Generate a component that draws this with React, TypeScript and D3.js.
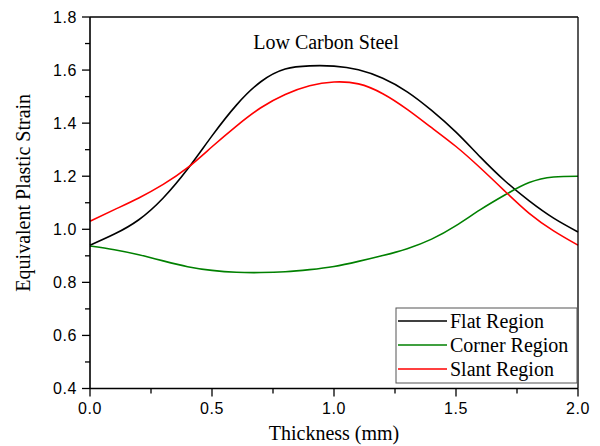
import React from "react";
import * as d3 from "d3";

const thickness = [0, 0.1, 0.2, 0.3, 0.4, 0.5, 0.6, 0.7, 0.8, 0.9, 1.0, 1.1, 1.2, 1.3, 1.4, 1.5, 1.6, 1.7, 1.8, 1.9, 2.0];
const flatRegion = [0.94, 0.982, 1.036, 1.118, 1.227, 1.352, 1.468, 1.556, 1.604, 1.616, 1.615, 1.601, 1.569, 1.518, 1.448, 1.366, 1.272, 1.183, 1.107, 1.042, 0.99];
const cornerRegion = [0.937, 0.923, 0.904, 0.881, 0.859, 0.845, 0.838, 0.837, 0.84, 0.848, 0.86, 0.879, 0.901, 0.927, 0.963, 1.014, 1.074, 1.129, 1.176, 1.197, 1.2];
const slantRegion = [1.03, 1.074, 1.118, 1.169, 1.232, 1.311, 1.389, 1.458, 1.508, 1.541, 1.555, 1.548, 1.511, 1.452, 1.383, 1.312, 1.231, 1.144, 1.06, 0.994, 0.94];

const seriesNames = ["Flat Region", "Corner Region", "Slant Region"];
const seriesColors = ["#000000", "#008000", "#ff0000"];
const seriesValues = [flatRegion, cornerRegion, slantRegion];

const xMajorTicks = [0, 0.5, 1.0, 1.5, 2.0];
const xMinorTicks = [0.25, 0.75, 1.25, 1.75];
const yMajorTicks = [0.4, 0.6, 0.8, 1.0, 1.2, 1.4, 1.6, 1.8];
const yMinorTicks = [0.5, 0.7, 0.9, 1.1, 1.3, 1.5, 1.7];

const titleText = "Low Carbon Steel";
const xLabel = "Thickness (mm)";
const yLabel = "Equivalent Plastic Strain";

export default function App() {
  const W = 600, H = 446;
  const left = 90, right = 578, top = 17, bottom = 388.5;
  const x = d3.scaleLinear().domain([0, 2]).range([left, right]);
  const y = d3.scaleLinear().domain([0.4, 1.8]).range([bottom, top]);
  const line = d3
    .line<number>()
    .x((_, i) => x(thickness[i]))
    .y((d) => y(d))
    .curve(d3.curveNatural);

  const serif = "'Liberation Serif', 'Times New Roman', serif";
  const sans = "'Liberation Sans', Arial, sans-serif";

  const legX = 396, legY = 308, legW = 181, legH = 75;

  return (
    <svg width={W} height={H} style={{ position: "absolute", left: 0, top: 0, background: "#fff" }}>
      <rect x={0} y={0} width={W} height={H} fill="#fff" />
      {seriesValues.map((vals, k) => (
        <path key={k} d={line(vals) || ""} fill="none" stroke={seriesColors[k]} strokeWidth={1.6} />
      ))}
      <line x1={left} x2={right} y1={top} y2={top} stroke="#000" strokeWidth={1.3} />
      <line x1={right} x2={right} y1={top} y2={bottom} stroke="#000" strokeWidth={1.3} />
      <line x1={left} x2={right} y1={bottom} y2={bottom} stroke="#000" strokeWidth={1.6} />
      <line x1={left} x2={left} y1={top} y2={bottom} stroke="#000" strokeWidth={1.6} />
      {xMajorTicks.map((t) => (
        <g key={"xm" + t}>
          <line x1={x(t)} x2={x(t)} y1={bottom} y2={bottom + 8} stroke="#000" strokeWidth={1.3} />
          <text x={x(t)} y={414} textAnchor="middle" fontFamily={sans} fontSize={16} letterSpacing={0.6} fill="#000">
            {t.toFixed(1)}
          </text>
        </g>
      ))}
      {xMinorTicks.map((t) => (
        <line key={"xn" + t} x1={x(t)} x2={x(t)} y1={bottom} y2={bottom + 5} stroke="#000" strokeWidth={1.3} />
      ))}
      {yMajorTicks.map((t) => (
        <g key={"ym" + t}>
          <line x1={left - 8} x2={left} y1={y(t)} y2={y(t)} stroke="#000" strokeWidth={1.3} />
          <text x={77} y={y(t)} dy="0.36em" textAnchor="end" fontFamily={sans} fontSize={16} letterSpacing={0.6} fill="#000">
            {t.toFixed(1)}
          </text>
        </g>
      ))}
      {yMinorTicks.map((t) => (
        <line key={"yn" + t} x1={left - 5} x2={left} y1={y(t)} y2={y(t)} stroke="#000" strokeWidth={1.3} />
      ))}
      <text x={326} y={49} textAnchor="middle" fontFamily={serif} fontSize={20} fill="#000">
        {titleText}
      </text>
      <text x={(left + right) / 2} y={440} textAnchor="middle" fontFamily={serif} fontSize={20} fill="#000">
        {xLabel}
      </text>
      <text
        transform={`translate(30,${(top + bottom) / 2 - 10}) rotate(-90)`}
        textAnchor="middle"
        fontFamily={serif}
        fontSize={20}
        fill="#000"
      >
        {yLabel}
      </text>
      <rect x={legX} y={legY} width={legW} height={legH} fill="#fff" stroke="#555" strokeWidth={1} />
      {seriesNames.map((name, k) => {
        const ly = legY + 13 + k * 24;
        return (
          <g key={name}>
            <line x1={legX + 2} x2={legX + 51} y1={ly} y2={ly} stroke={seriesColors[k]} strokeWidth={1.6} />
            <text x={legX + 54} y={ly + 7} fontFamily={serif} fontSize={20} fill="#000">
              {name}
            </text>
          </g>
        );
      })}
    </svg>
  );
}
